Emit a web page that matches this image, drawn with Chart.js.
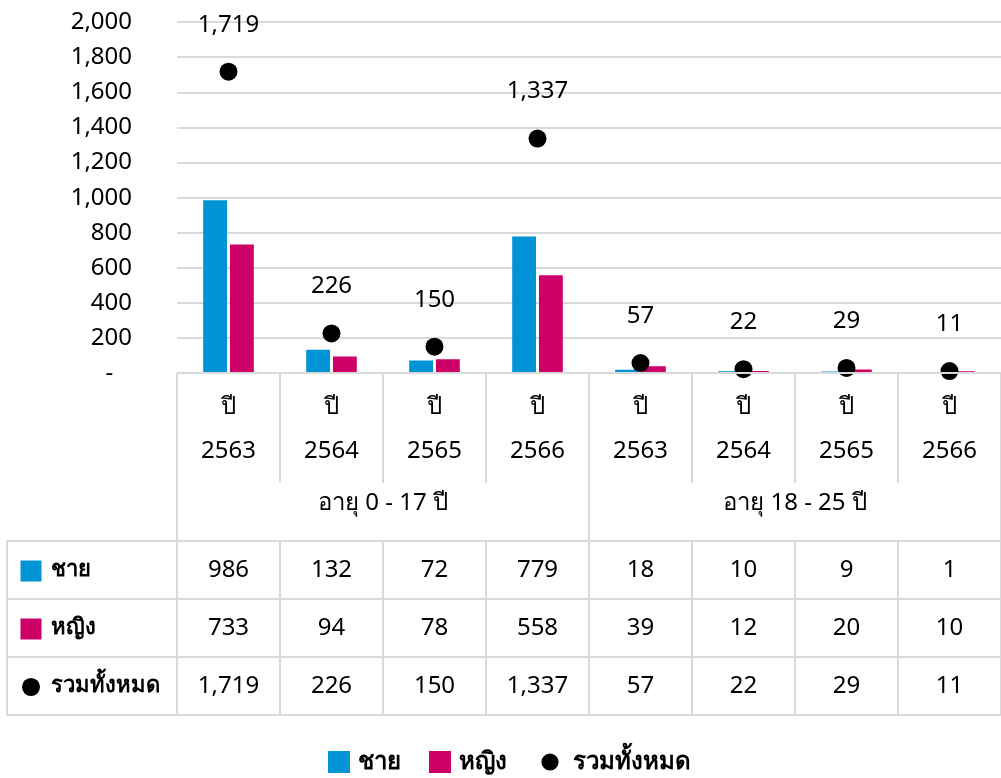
<!DOCTYPE html>
<html>
<head>
<meta charset="utf-8">
<script src="https://cdn.jsdelivr.net/npm/chart.js@4.4.1/dist/chart.umd.min.js"></script>
<style>
  html, body { margin: 0; padding: 0; background: #fff; }
</style>
</head>
<body>
<canvas id="chart" width="1001" height="778"></canvas>
<script>
const years = ["2563", "2564", "2565", "2566", "2563", "2564", "2565", "2566"];
const yearPrefix = "ปี";
const groups = ["อายุ 0 - 17 ปี", "อายุ 18 - 25 ปี"];
const groupSize = 4;
const seriesNames = ["ชาย", "หญิง", "รวมทั้งหมด"];
const male = [986, 132, 72, 779, 18, 10, 9, 1];
const female = [733, 94, 78, 558, 39, 12, 20, 10];
const total = [1719, 226, 150, 1337, 57, 22, 29, 11];
const yMax = 2000;
const yStep = 200;

const FONT = "'Noto Sans', sans-serif";
const BLUE = "#0093D5";
const PINK = "#CC0066";
const GRID = "#d9d9d9";

const fmt = (v) => v.toLocaleString("en-US");

function drawKey(ctx, r, cx, cy, size) {
    if (r < 2) {
        ctx.fillStyle = r === 0 ? BLUE : PINK;
        ctx.fillRect(cx - size / 2, cy - size / 2, size, size);
    } else {
        ctx.fillStyle = "#000";
        ctx.beginPath();
        ctx.arc(cx, cy, size * 0.43, 0, Math.PI * 2);
        ctx.fill();
    }
}

/* value labels over the dots, then the table under the plot */
const tablePlugin = {
    id: "tablePlugin",
    afterDatasetsDraw(chart) {
        const ctx = chart.ctx;
        const meta = chart.getDatasetMeta(2);
        ctx.save();
        ctx.fillStyle = "#000";
        ctx.font = "24px " + FONT;
        ctx.textAlign = "center";
        ctx.textBaseline = "middle";
        meta.data.forEach((pt, i) => {
            ctx.fillText(fmt(total[i]), pt.x, pt.y - 47);
        });
        ctx.restore();
    },
    afterDraw(chart) {
        const ctx = chart.ctx;
        const xs = chart.scales.x;
        const area = chart.chartArea;
        const half = (xs.getPixelForValue(1) - xs.getPixelForValue(0)) / 2;
        const edge = (i) => xs.getPixelForValue(i) - half;
        const top = area.bottom;
        const innerBottom = 483;
        const tableTop = 541;
        const rowH = 58;
        const tableLeft = 7;
        const right = edge(years.length);

        ctx.save();
        ctx.strokeStyle = GRID;
        ctx.lineWidth = 2;
        const line = (x1, y1, x2, y2) => {
            ctx.beginPath();
            ctx.moveTo(x1, y1);
            ctx.lineTo(x2, y2);
            ctx.stroke();
        };

        line(area.left, top, right, top);
        for (let i = 0; i <= years.length; i++) {
            const x = edge(i);
            if (i % groupSize === 0) line(x, top, x, tableTop);
            else line(x, top, x, innerBottom);
        }
        for (let r = 0; r <= 3; r++) {
            line(tableLeft, tableTop + r * rowH, right, tableTop + r * rowH);
        }
        line(tableLeft, tableTop, tableLeft, tableTop + 3 * rowH);
        for (let i = 0; i <= years.length; i++) {
            line(edge(i), tableTop, edge(i), tableTop + 3 * rowH);
        }

        ctx.fillStyle = "#000";
        ctx.textAlign = "center";
        ctx.textBaseline = "middle";
        ctx.font = "24px " + FONT;
        groups.forEach((g, gi) => {
            const x = (edge(gi * groupSize) + edge((gi + 1) * groupSize)) / 2;
            ctx.fillText(g, x, 503);
        });

        const rows = [male, female, total];
        rows.forEach((vals, r) => {
            const cy = tableTop + r * rowH + rowH / 2;
            vals.forEach((v, i) => {
                ctx.fillText(fmt(v), xs.getPixelForValue(i), cy);
            });
        });

        // row headers
        ctx.textAlign = "left";
        ctx.font = "bold 22px " + FONT;
        rows.forEach((vals, r) => {
            const cy = tableTop + r * rowH + rowH / 2;
            drawKey(ctx, r, 31, cy + 1, 21);
            ctx.fillStyle = "#000";
            ctx.fillText(seriesNames[r], 51, cy);
        });

        // legend
        const legendY = 762;
        const keyX = [339, 440, 550];
        ctx.font = "bold 24px " + FONT;
        keyX.forEach((kx, r) => {
            drawKey(ctx, r, kx, legendY, r < 2 ? 22 : 20);
            ctx.fillStyle = "#000";
            ctx.fillText(seriesNames[r], kx + (r < 2 ? 19 : 23), legendY);
        });
        ctx.restore();
    }
};

new Chart(document.getElementById("chart").getContext("2d"), {
    type: "bar",
    data: {
        labels: years.map((y) => [yearPrefix, y]),
        datasets: [
            {
                label: seriesNames[0],
                data: male,
                backgroundColor: BLUE,
                categoryPercentage: 0.52,
                barPercentage: 0.89,
                order: 2,
            },
            {
                label: seriesNames[1],
                data: female,
                backgroundColor: PINK,
                categoryPercentage: 0.52,
                barPercentage: 0.89,
                order: 2,
            },
            {
                type: "line",
                label: seriesNames[2],
                data: total,
                showLine: false,
                pointRadius: 9,
                pointBackgroundColor: "#000",
                pointBorderWidth: 0,
                clip: false,
                order: 1,
            },
        ],
    },
    options: {
        responsive: false,
        animation: false,
        devicePixelRatio: 1,
        layout: { autoPadding: false, padding: { top: 8, right: -14, left: 0, bottom: 0 } },
        plugins: {
            legend: { display: false },
            tooltip: { enabled: false },
        },
        scales: {
            x: {
                grid: { display: false, drawTicks: false },
                border: { display: false },
                ticks: {
                    color: "#000",
                    font: { family: FONT, size: 24, lineHeight: 1.83 },
                    padding: 12,
                    maxRotation: 0,
                    autoSkip: false,
                },
                afterFit: (scale) => { scale.height = 405; },
            },
            y: {
                min: 0,
                max: yMax,
                grid: { color: GRID, lineWidth: 2, drawTicks: true, tickLength: 37, tickColor: "rgba(0,0,0,0)" },
                border: { display: false },
                ticks: {
                    stepSize: yStep,
                    autoSkip: false,
                    color: "#000",
                    padding: 8,
                    font: { family: FONT, size: 24 },
                    callback: (v) => (v === 0 ? "-   " : fmt(v)),
                },
                afterFit: (scale) => { scale.width = 177; },
            },
        },
    },
    plugins: [tablePlugin],
});
</script>
</body>
</html>
